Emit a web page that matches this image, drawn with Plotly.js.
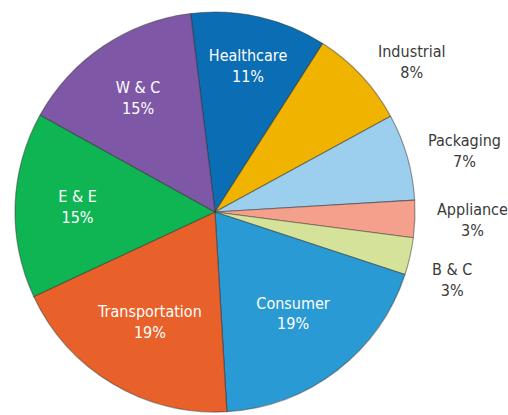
<!DOCTYPE html>
<html>
<head>
<meta charset="utf-8">
<script src="https://cdn.plot.ly/plotly-3.0.1.min.js"></script>
<style>html,body{margin:0;padding:0;background:#fff;}#chart{width:508px;height:415px;}</style>
</head>
<body>
<div id="chart"></div>
<script>
const categories = ["Healthcare", "Industrial", "Packaging", "Appliance", "B & C", "Consumer", "Transportation", "E & E", "W & C"];
const shares = [11, 8, 7, 3, 3, 19, 19, 15, 15];
const colors = ["#0B6DB3", "#F0B400", "#9CCFEE", "#F4A08C", "#D4E29A", "#2A9AD4", "#E8602A", "#10B553", "#7E58A6"];
const insideLabel = [true, false, false, false, false, true, true, true, true];

const FONT = "DejaVu Sans Condensed, Liberation Sans Narrow, Arial Narrow, sans-serif";
const ROT = -7;
const total = shares.reduce((a, b) => a + b, 0);

const trace = {
  type: "pie",
  labels: categories,
  values: shares,
  sort: false,
  direction: "clockwise",
  rotation: ROT,
  marker: { colors: colors, line: { color: "rgba(40,40,40,0.45)", width: 1.2 } },
  textinfo: "label+percent",
  texttemplate: "%{label}<br>%{percent:.0%}",
  textposition: insideLabel.map(v => v ? "inside" : "none"),
  insidetextorientation: "horizontal",
  textfont: { family: FONT, size: 16, color: "#ffffff" },
  hoverinfo: "none",
  showlegend: false,
  automargin: false
};

// outside labels for small slices: left edge anchored just outside the rim at each slice's mid-angle,
// pushed down if they would overlap the previous label
const annotations = [];
let cum = 0;
let prevY = null;
const MIN_GAP = 0.15; // paper units (plot area is 400px tall)
shares.forEach((v, i) => {
  const mid = ROT + (cum + v / 2) / total * 360;
  cum += v;
  if (insideLabel[i]) return;
  const a = mid * Math.PI / 180;
  const k = 1.1;
  let y = 0.5 + 0.5 * k * Math.cos(a);
  if (prevY !== null && prevY - y < MIN_GAP) y = prevY - MIN_GAP;
  prevY = y;
  annotations.push({
    xref: "paper", yref: "paper",
    x: 0.5 + 0.5 * k * Math.sin(a),
    y: y,
    xanchor: "left", yanchor: "middle",
    showarrow: false,
    align: "center",
    text: categories[i] + "<br>" + Math.round(v / total * 100) + "%",
    font: { family: FONT, size: 16, color: "#3a3a3a" }
  });
});

const layout = {
  width: 508,
  height: 415,
  margin: { l: 15, r: 93, t: 12, b: 3 },
  paper_bgcolor: "#ffffff",
  showlegend: false,
  annotations: annotations
};

Plotly.newPlot("chart", [trace], layout, { displayModeBar: false, staticPlot: true });
</script>
</body>
</html>
